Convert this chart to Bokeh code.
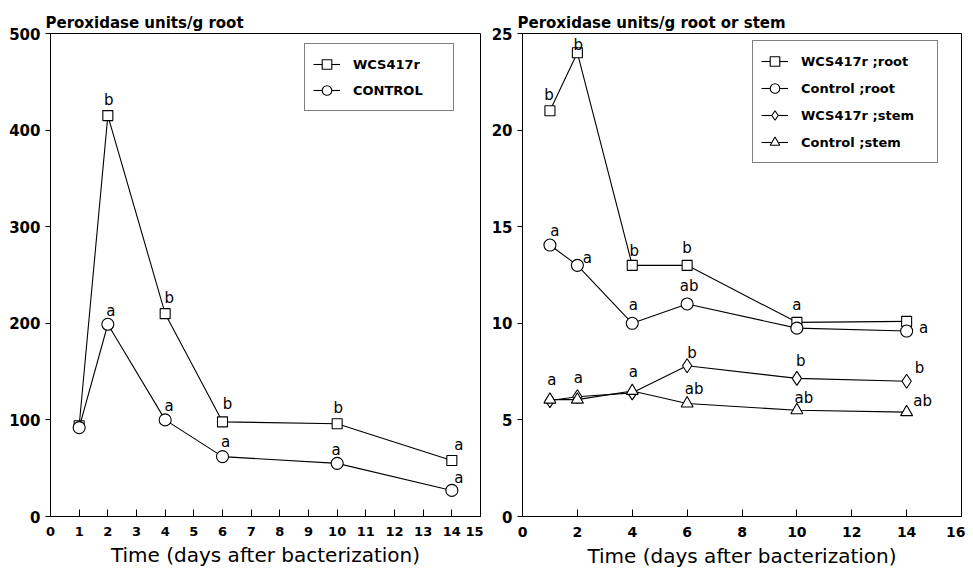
from bokeh.plotting import figure
from bokeh.models import Range1d, FixedTicker, Legend, LegendItem, ColumnDataSource, Title
from bokeh.layouts import row
from bokeh.embed import file_html
from bokeh.resources import INLINE
from bokeh.core.properties import value

# ---------------- data ----------------
days = [1, 2, 4, 6, 10, 14]

left_xticks = list(range(0, 16))
left_yticks = [0, 100, 200, 300, 400, 500]
left_wcs = [94, 415, 210, 98, 96, 58]
left_ctrl = [92, 199, 100, 62, 55, 27]
left_wcs_letters = ["", "b", "b", "b", "b", "a"]
left_ctrl_letters = ["", "a", "a", "a", "a", "a"]

right_xticks = [0, 2, 4, 6, 8, 10, 12, 14, 16]
right_yticks = [0, 5, 10, 15, 20, 25]
right_wcs_root = [21.0, 24.0, 13.0, 13.0, 10.05, 10.1]
right_ctrl_root = [14.05, 13.0, 10.0, 11.0, 9.75, 9.6]
right_wcs_stem = [6.0, 6.2, 6.4, 7.8, 7.15, 7.0]
right_ctrl_stem = [6.05, 6.05, 6.5, 5.85, 5.5, 5.4]
right_wcs_root_letters = ["b", "b", "b", "b", "a", ""]
right_ctrl_root_letters = ["a", "a", "a", "ab", "", "a"]
right_wcs_stem_letters = ["a", "a", "a", "b", "b", "b"]
right_ctrl_stem_letters = ["", "", "", "ab", "ab", "ab"]

# letter placement (screen px relative to the marker)
left_wcs_dx = [0, 1, 4, 5, 1, 7]
left_wcs_dy = [0, -16, -16, -18, -16, -15]
left_ctrl_dx = [0, 3, 4, 3, -1, 7]
left_ctrl_dy = [0, -13, -14, -15, -13, -12]
r_wr_dx = [-1, 1, 2, 0, 0, 0]
r_wr_dy = [-16, -8, -14, -17, -17, 0]
r_cr_dx = [5, 10, 1, 2, 0, 17]
r_cr_dy = [-14, -7, -18, -18, 0, -3]
r_ws_dx = [2, 1, 1, 5, 4, 13]
r_ws_dy = [-21, -19, -21, -13, -17, -13]
r_cs_dx = [0, 0, 0, 7, 7, 16]
r_cs_dy = [0, 0, 0, -14, -12, -11]

XLABEL = "Time (days after bacterization)"
BOLD_FONT = "DejaVu Sans"


def make_fig(width, bl, br, xr, yr, xticks, yticks, xtick_size, title):
    p = figure(width=width, height=570, output_backend="svg", toolbar_location=None,
               x_range=Range1d(*xr), y_range=Range1d(*yr),
               min_border_left=bl, min_border_right=br, min_border_top=33, min_border_bottom=53)
    p.grid.visible = False
    p.outline_line_color = "black"
    p.outline_line_width = 1
    p.background_fill_color = "white"
    p.border_fill_color = "white"

    p.title = Title(text=title, align="left", offset=-5, standoff=4,
                    text_font=BOLD_FONT, text_font_style="bold", text_font_size="15px",
                    text_color="black")

    xa = p.xaxis[0]
    xa.ticker = FixedTicker(ticks=xticks)
    xa.minor_tick_line_color = None
    xa.major_tick_in = 7
    xa.major_tick_out = 0
    xa.major_label_standoff = 10
    xa.major_label_text_font = BOLD_FONT
    xa.major_label_text_font_style = "bold"
    xa.major_label_text_font_size = xtick_size
    xa.major_label_text_color = "black"
    xa.axis_line_color = "black"
    xa.major_tick_line_color = "black"
    xa.axis_label = XLABEL
    xa.axis_label_text_font = "DejaVu Sans"
    xa.axis_label_text_font_style = "normal"
    xa.axis_label_text_font_size = "20px"
    xa.axis_label_standoff = 4
    xa.axis_label_text_color = "black"

    ya = p.yaxis[0]
    ya.ticker = FixedTicker(ticks=yticks)
    ya.minor_tick_line_color = None
    ya.major_tick_in = 0
    ya.major_tick_out = 5
    ya.major_label_standoff = 5
    ya.major_label_text_font = BOLD_FONT
    ya.major_label_text_font_style = "bold"
    ya.major_label_text_font_size = "15px"
    ya.major_label_text_color = "black"
    ya.axis_line_color = "black"
    ya.major_tick_line_color = "black"
    return p


def series(p, ys, marker, size, letters, dx, dy):
    src = ColumnDataSource(dict(x=days, y=ys, t=letters, dx=dx, dy=dy))
    ln = p.line("x", "y", source=src, line_color="black", line_width=1.1)
    sc = p.scatter("x", "y", source=src, marker=marker, size=size, line_color="black",
                   line_width=1.1, fill_color="white")
    p.text("x", "y", text="t", x_offset="dx", y_offset="dy", source=src,
           text_align="center", text_baseline="middle", text_font=value("DejaVu Sans"),
           text_font_size=value("15px"), text_color="black")
    return [ln, sc]


def style_legend(lg, label_width):
    lg.border_line_color = "black"
    lg.border_line_width = 1
    lg.background_fill_color = "white"
    lg.background_fill_alpha = 1
    lg.label_text_font = BOLD_FONT
    lg.label_text_font_style = "bold"
    lg.label_text_font_size = "13px"
    lg.label_text_color = "black"
    lg.glyph_width = 27
    lg.glyph_height = 24
    lg.padding = 8
    lg.margin = 0
    lg.label_standoff = 13
    lg.label_width = label_width


# ---------------- left panel ----------------
p1 = make_fig(483, 50, 3, (0, 15), (0, 500), left_xticks, left_yticks, "13px",
              "Peroxidase units/g root")
r_w = series(p1, left_wcs, "square", 10, left_wcs_letters, left_wcs_dx, left_wcs_dy)
r_c = series(p1, left_ctrl, "circle", 12, left_ctrl_letters, left_ctrl_dx, left_ctrl_dy)
lg1 = Legend(items=[LegendItem(label="WCS417r", renderers=r_w),
                    LegendItem(label="CONTROL", renderers=r_c)],
             location=(254, 405), spacing=2)
style_legend(lg1, 92)
p1.add_layout(lg1)

# ---------------- right panel ----------------
p2 = make_fig(482, 39, 4, (0, 16), (0, 25), right_xticks, right_yticks, "14px",
              "Peroxidase units/g root or stem")
r1 = series(p2, right_wcs_root, "square", 10, right_wcs_root_letters, r_wr_dx, r_wr_dy)
r2 = series(p2, right_ctrl_root, "circle", 12, right_ctrl_root_letters, r_cr_dx, r_cr_dy)
r3 = series(p2, right_wcs_stem, "diamond", 14, right_wcs_stem_letters, r_ws_dx, r_ws_dy)
r4 = series(p2, right_ctrl_stem, "triangle", 12, right_ctrl_stem_letters, r_cs_dx, r_cs_dy)
lg2 = Legend(items=[LegendItem(label="WCS417r ;root", renderers=r1),
                    LegendItem(label="Control ;root", renderers=r2),
                    LegendItem(label="WCS417r ;stem", renderers=r3),
                    LegendItem(label="Control ;stem", renderers=r4)],
             location=(230, 353), spacing=3)
style_legend(lg2, 128)
p2.add_layout(lg2)

layout = row(p1, p2)
open("out.html", "w").write(file_html(layout, INLINE))
